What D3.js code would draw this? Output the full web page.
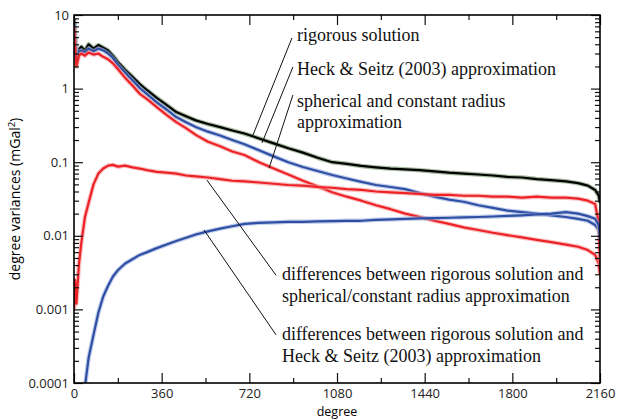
<!DOCTYPE html>
<html lang="en">
<head>
  <meta charset="UTF-8">
  <title>Degree variances</title>
  <script src="https://d3js.org/d3.v7.min.js"></script>
  <style>
    body { margin: 0; background: #fff; }
    .tick text { font-family: "Open Sans", sans-serif; font-size: 13px; fill: #222; }
    .note { font-family: "Liberation Serif", "Times New Roman", serif; font-size: 18px; fill: #111; }
  </style>
</head>
<body>
  <svg width="617" height="420"></svg>

  <script>
    // Spherical harmonic degree (x values shared by all series)
    const degrees = [0, 5, 10, 20, 30, 45, 60, 80, 100, 120, 140, 160, 180, 210, 240, 270, 300, 340, 380, 420,
      460, 500, 550, 600, 650, 700, 760, 820, 880, 940, 1000, 1060, 1120, 1180, 1240, 1300, 1360, 1420, 1480, 1540,
      1600, 1660, 1720, 1780, 1840, 1900, 1960, 2020, 2070, 2110, 2140, 2155, 2160];

    // degree variances (mGal^2)
    const rigorous = [9.0, 5.0, 2.2, 3.4, 3.7, 3.3, 4.0, 3.5, 3.9, 3.6, 3.3, 2.8, 2.3, 1.8, 1.45, 1.15, 0.95, 0.75, 0.6, 0.48,
      0.42, 0.37, 0.33, 0.30, 0.27, 0.245, 0.21, 0.18, 0.155, 0.135, 0.115, 0.10, 0.095, 0.089, 0.085, 0.082, 0.080, 0.078, 0.075, 0.072,
      0.070, 0.068, 0.066, 0.063, 0.062, 0.059, 0.057, 0.055, 0.052, 0.048, 0.042, 0.035, 0.028];

    const heckSeitz = [8.0, 4.5, 2.4, 3.2, 3.3, 3.1, 3.5, 3.2, 3.5, 3.3, 3.0, 2.6, 2.1, 1.65, 1.3, 1.02, 0.84, 0.65, 0.52, 0.41,
      0.35, 0.30, 0.26, 0.23, 0.20, 0.175, 0.145, 0.12, 0.10, 0.086, 0.076, 0.067, 0.060, 0.054, 0.049, 0.046, 0.043, 0.038, 0.034, 0.031,
      0.029, 0.026, 0.024, 0.022, 0.021, 0.020, 0.019, 0.018, 0.017, 0.016, 0.014, 0.012, 0.010];

    const spherical = [7.0, 3.5, 2.0, 2.8, 3.0, 2.8, 3.1, 2.9, 3.0, 2.7, 2.5, 2.2, 1.85, 1.4, 1.1, 0.85, 0.72, 0.56, 0.44, 0.35,
      0.29, 0.235, 0.19, 0.165, 0.14, 0.125, 0.10, 0.082, 0.068, 0.056, 0.047, 0.039, 0.034, 0.030, 0.026, 0.023, 0.020, 0.018, 0.016, 0.0145,
      0.013, 0.012, 0.011, 0.0102, 0.0095, 0.0088, 0.0082, 0.0076, 0.0071, 0.0064, 0.0055, 0.0042, 0.003];

    const diffSpherical = [0.001, 0.0025, 0.0012, 0.004, 0.008, 0.018, 0.028, 0.05, 0.07, 0.082, 0.09, 0.092, 0.087, 0.09, 0.085, 0.082, 0.078, 0.074, 0.072, 0.070,
      0.066, 0.064, 0.062, 0.059, 0.056, 0.055, 0.053, 0.051, 0.049, 0.048, 0.046, 0.045, 0.043, 0.042, 0.040, 0.039, 0.038, 0.037, 0.036, 0.036,
      0.035, 0.035, 0.034, 0.034, 0.033, 0.034, 0.033, 0.033, 0.032, 0.030, 0.027, 0.015, 0.004];

    const diffHeckSeitz = [null, null, null, null, null, 0.00009, 0.00022, 0.00045, 0.0009, 0.0015, 0.0021, 0.0028, 0.0034, 0.0042, 0.0048, 0.0055, 0.006, 0.0068, 0.0076, 0.0085,
      0.0094, 0.0104, 0.0115, 0.0125, 0.0135, 0.0145, 0.015, 0.0152, 0.0155, 0.0155, 0.0157, 0.0158, 0.016, 0.016, 0.0165, 0.0167, 0.017, 0.0172, 0.0174, 0.0176,
      0.0178, 0.018, 0.0183, 0.0186, 0.019, 0.0195, 0.020, 0.021, 0.020, 0.0185, 0.017, 0.014, 0.009];

    // Axis ticks
    const xMajor = [0, 360, 720, 1080, 1440, 1800, 2160];
    const xMinor = [180, 540, 900, 1260, 1620, 1980];
    const yMajor = [10, 1, 0.1, 0.01, 0.001, 0.0001];
    const yTickLabels = ["10", "1", "0.1", "0.01", "0.001", "0.0001"];

    const series = [
      { values: rigorous, color: "#000000", halo: "#6f8f62" },
      { values: heckSeitz, color: "#2e4fa3", halo: "#9aaede" },
      { values: spherical, color: "#ec2227", halo: "#f59a9a" },
      { values: diffSpherical, color: "#ec2227", halo: "#f59a9a" },
      { values: diffHeckSeitz, color: "#2e4fa3", halo: "#9aaede" }
    ];

    // Annotations: text lines (x in degree, baseline in mGal^2) and leader line ends
    const notes = [
      { lines: [["rigorous solution", 4.43]], x: 916, from: [895, 4.87], to: [735, 0.234] },
      { lines: [["Heck & Seitz (2003) approximation", 1.53]], x: 916, from: [899, 1.97], to: [772, 0.182] },
      { lines: [["spherical and constant radius", 0.562], ["approximation", 0.292]], x: 916, from: [899, 0.82], to: [801, 0.083] },
      { lines: [["differences between rigorous solution and", 0.00251], ["spherical/constant radius approximation", 0.00126]], x: 854, from: [830, 0.0029], to: [546, 0.057] },
      { lines: [["differences between rigorous solution and", 0.000384], ["Heck & Seitz (2003) approximation", 0.000193]], x: 854, from: [830, 0.00045], to: [534, 0.012] }
    ];

    const svg = d3.select("svg"),
          margin = { top: 15, right: 17, bottom: 37, left: 74 },
          width = +svg.attr("width") - margin.left - margin.right,
          height = +svg.attr("height") - margin.top - margin.bottom,
          g = svg.append("g").attr("transform", "translate(" + margin.left + "," + margin.top + ")");

    const x = d3.scaleLinear().domain([0, 2160]).range([0, width]);
    const y = d3.scaleLog().domain([0.0001, 10]).range([height, 0]);

    const yMinor = [];
    yMajor.slice(1).forEach(p => { for (let k = 2; k <= 9; k++) yMinor.push(p * k); });

    g.append("clipPath").attr("id", "plot")
      .append("rect").attr("width", width).attr("height", height);

    // Curves
    const line = d3.line()
      .defined(d => d[1] != null)
      .x(d => x(d[0]))
      .y(d => y(d[1]));

    const curves = g.append("g").attr("clip-path", "url(#plot)");
    series.forEach(s => {
      const pts = degrees.map((d, i) => [d, s.values[i]]);
      curves.append("path")
        .datum(pts)
        .attr("fill", "none")
        .attr("stroke", s.halo)
        .attr("stroke-opacity", 0.6)
        .attr("stroke-width", 4.5)
        .attr("stroke-linejoin", "round")
        .attr("d", line);
      curves.append("path")
        .datum(pts)
        .attr("fill", "none")
        .attr("stroke", s.color)
        .attr("stroke-width", 2.2)
        .attr("stroke-linejoin", "round")
        .attr("d", line);
    });

    // Axes with inward ticks on all four sides
    const clean = sel => sel.select(".domain").remove();
    g.append("g").attr("transform", "translate(0," + height + ")")
      .call(d3.axisBottom(x).tickValues(xMajor).tickSize(-10).tickPadding(6).tickFormat(d3.format("d"))).call(clean);
    g.append("g").attr("transform", "translate(0," + height + ")")
      .call(d3.axisBottom(x).tickValues(xMinor).tickSize(-5).tickFormat("")).call(clean);
    g.append("g")
      .call(d3.axisTop(x).tickValues(xMajor).tickSize(-10).tickFormat("")).call(clean);
    g.append("g")
      .call(d3.axisTop(x).tickValues(xMinor).tickSize(-5).tickFormat("")).call(clean);

    g.append("g")
      .call(d3.axisLeft(y).tickValues(yMajor).tickSize(-9).tickPadding(5).tickFormat((d, i) => yTickLabels[i])).call(clean);
    g.append("g")
      .call(d3.axisLeft(y).tickValues(yMinor).tickSize(-5).tickFormat("")).call(clean);
    g.append("g").attr("transform", "translate(" + width + ",0)")
      .call(d3.axisRight(y).tickValues(yMajor).tickSize(-9).tickFormat("")).call(clean);
    g.append("g").attr("transform", "translate(" + width + ",0)")
      .call(d3.axisRight(y).tickValues(yMinor).tickSize(-5).tickFormat("")).call(clean);

    g.selectAll(".tick line").attr("stroke", "#111").attr("stroke-width", 1.2);

    g.append("rect")
      .attr("width", width).attr("height", height)
      .attr("fill", "none").attr("stroke", "#000").attr("stroke-width", 1.6);

    // Annotations
    notes.forEach(n => {
      g.append("line")
        .attr("x1", x(n.from[0])).attr("y1", y(n.from[1]))
        .attr("x2", x(n.to[0])).attr("y2", y(n.to[1]))
        .attr("stroke", "#111").attr("stroke-width", 1);
      n.lines.forEach(([txt, v]) => {
        g.append("text").attr("class", "note")
          .attr("x", x(n.x)).attr("y", y(v))
          .text(txt);
      });
    });

    // Axis titles
    svg.append("text")
      .attr("x", margin.left + width / 2)
      .attr("y", 416)
      .attr("text-anchor", "middle")
      .style("font-family", "'Open Sans', sans-serif")
      .style("font-size", "12.5px")
      .text("degree");

    const yt = svg.append("text")
      .attr("transform", "translate(20," + (margin.top + height / 2) + ") rotate(-90)")
      .attr("text-anchor", "middle")
      .style("font-family", "'Open Sans', sans-serif")
      .style("font-size", "14px");
    yt.append("tspan").text("degree variances (mGal");
    yt.append("tspan").attr("dy", -5).style("font-size", "9.5px").text("2");
    yt.append("tspan").attr("dy", 5).text(")");
  </script>
</body>
</html>
